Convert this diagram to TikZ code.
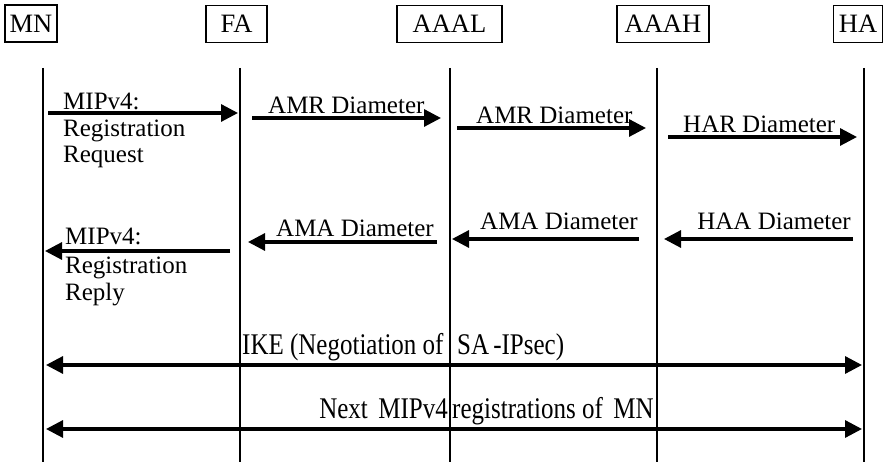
\documentclass[tikz,border=0pt]{standalone}
\usepackage{fontspec}
\setmainfont{Liberation Serif}
\usetikzlibrary{arrows.meta}
\begin{document}
\begin{tikzpicture}[x=1pt,y=-1pt,
  entity/.style={draw, line width=1.6pt, inner sep=0pt, font=\fontsize{26.5}{28}\selectfont, minimum height=37pt},
  life/.style={line width=2pt},
  msg/.style={line width=3.2pt, -{Triangle[length=17pt,width=17pt]}},
  both/.style={line width=3.2pt, {Triangle[length=17pt,width=17pt]}-{Triangle[length=17pt,width=17pt]}},
  lbl/.style={inner sep=0pt, anchor=base west, font=\fontsize{25}{27}\selectfont},
  lblr/.style={lbl, anchor=base east}
]
\useasboundingbox (0,0) rectangle (892,462);

% entities
\node[entity, minimum width=52pt]  (MN)   at (31,23.5)  {MN};
\node[entity, minimum width=61pt]  (FA)   at (236.5,24) {FA};
\node[entity, minimum width=105pt] (AAAL) at (449.5,24) {AAAL};
\node[entity, minimum width=92pt]  (AAAH) at (663,24)   {AAAH};
\node[entity, minimum width=49pt]  (HA)   at (858,24)   {HA};

% lifelines
\foreach \n/\x in {MN/43, FA/240, AAAL/450, AAAH/657, HA/864}{
  \coordinate (\n top) at (\x,68);
  \coordinate (\n bot) at (\x,462);
  \draw[life] (\n top) -- (\n bot);
}

% row 1 (requests)
\coordinate (a1s) at (48,113);  \coordinate (a1e) at (238,113);
\coordinate (a2s) at (252,118); \coordinate (a2e) at (441,118);
\coordinate (a3s) at (457,128); \coordinate (a3e) at (646,128);
\coordinate (a4s) at (668,137); \coordinate (a4e) at (857,137);
\draw[msg] (a1s) -- (a1e);
\draw[msg] (a2s) -- (a2e);
\draw[msg] (a3s) -- (a3e);
\draw[msg] (a4s) -- (a4e);
\node[lbl] (t1a) at (63,110) {MIPv4:};
\node[lbl] (t1b) at (63,137) {Registration};
\node[lbl] (t1c) at (63,163) {Request};
\node[lbl] (t2) at (268,114) {AMR Diameter};
\node[lbl] (t3) at (476,124) {AMR Diameter};
\node[lbl] (t4) at (683,133) {HAR Diameter};

% row 2 (answers)
\coordinate (b1s) at (230,251); \coordinate (b1e) at (45,251);
\coordinate (b2s) at (437,242); \coordinate (b2e) at (248,242);
\coordinate (b3s) at (639,239); \coordinate (b3e) at (452,239);
\coordinate (b4s) at (853,239); \coordinate (b4e) at (664,239);
\draw[msg] (b1s) -- (b1e);
\draw[msg] (b2s) -- (b2e);
\draw[msg] (b3s) -- (b3e);
\draw[msg] (b4s) -- (b4e);
\node[lbl] (u1a) at (65,245) {MIPv4:};
\node[lbl] (u1b) at (65,274) {Registration};
\node[lbl] (u1c) at (65,301) {Reply};
\node[lblr] (u2) at (434,237) {AMA Diameter};
\node[lblr] (u3) at (638,230) {AMA Diameter};
\node[lblr] (u4) at (851,230) {HAA Diameter};

% row 3 (end-to-end)
\coordinate (c1s) at (46,365); \coordinate (c1e) at (862,365);
\coordinate (c2s) at (46,429); \coordinate (c2e) at (862,429);
\draw[both] (c1s) -- (c1e);
\draw[both] (c2s) -- (c2e);
\node[lbl] (v1a) at (242,355) {\scalebox{1}[1.2]{IKE (Negotiation of}};
\node[lbl] (v1b) at (457,355) {\scalebox{1}[1.2]{SA\,-IPsec)}};
\node[lblr] (v2a) at (448,418) {\scalebox{1}[1.2]{Next\, MIPv4}};
\node[lbl] (v2b) at (452,418) {\scalebox{1}[1.2]{registrations of\, MN}};
\end{tikzpicture}
\end{document}
